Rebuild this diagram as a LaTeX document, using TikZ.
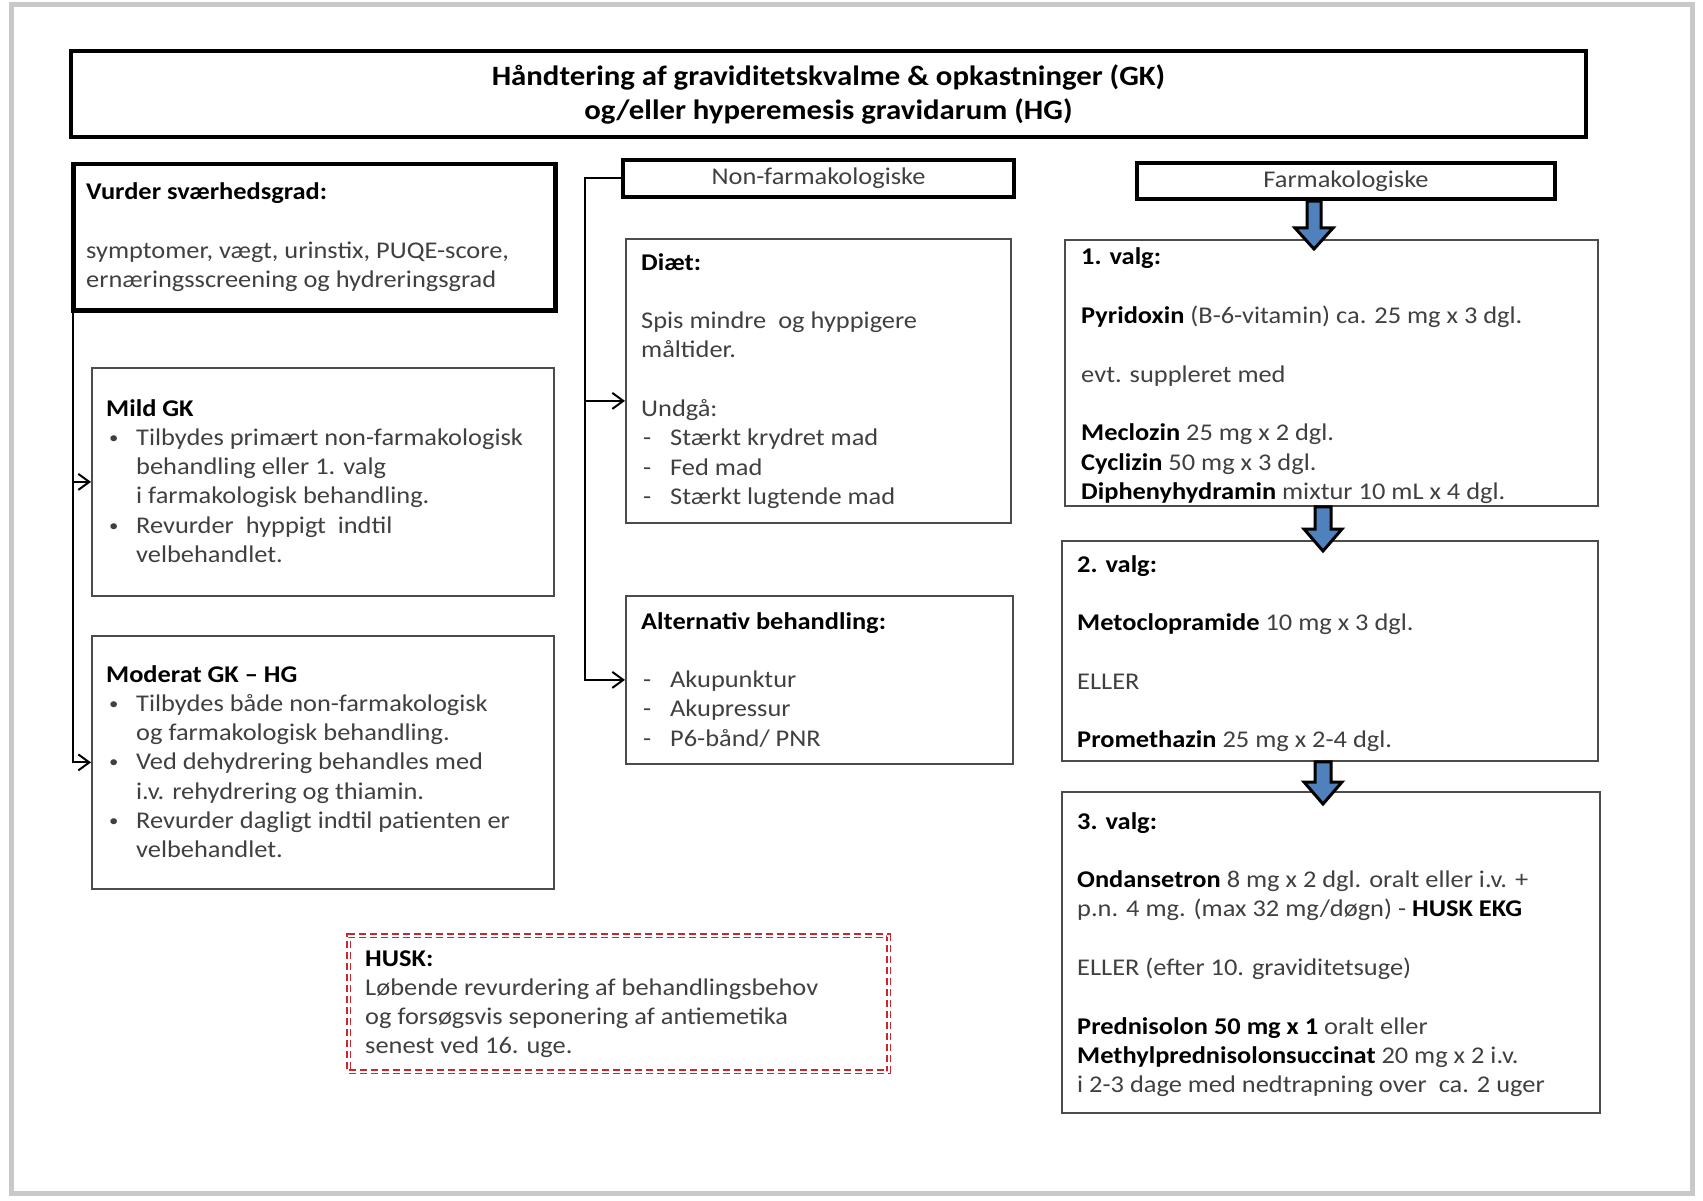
\documentclass[tikz,border=0pt]{standalone}
\usepackage{fontspec}
\setmainfont{Carlito}[FakeStretch=1.1]
\usetikzlibrary{arrows.meta,calc}
\definecolor{txtgray}{HTML}{404040}
\definecolor{blu}{HTML}{4F81BD}
\definecolor{huskred}{HTML}{C8282D}
\definecolor{framegray}{HTML}{C8C8C8}
\newcommand\mylines[1]{\begin{tabular}[t]{@{}l@{}}#1\end{tabular}}
\newcommand\mybul{\hspace*{3pt}\makebox[27pt][l]{\raisebox{2pt}{\fontsize{17}{17}\selectfont•}}}
\begin{document}
\begin{tikzpicture}[x=1pt,y=-1pt,
  thickbox/.style={draw=black, line width=4.5pt, fill=white, inner sep=0pt},
  thinbox/.style={draw=black!70, line width=1.8pt, fill=white, inner sep=0pt, anchor=north west},
  bodytext/.style={anchor=base west, inner sep=0pt, text=txtgray,
     font=\fontsize{24}{29.3}\selectfont},
  conn/.style={draw=black, line width=2pt, -{Straight Barb[length=11pt,width=16pt,line width=2pt]}},
  blockarr/.style={draw=black, line width=3pt, fill=blu, line join=miter},
]
\fill[white] (0,0) rectangle (1703,1201);
\useasboundingbox (0,0) rectangle (1703,1201);
\draw[framegray, line width=5pt] (11,5) rectangle (1692,1193);

% title
\node[thickbox, minimum width=1515pt, minimum height=86pt, align=center,
      font=\fontsize{28}{34}\selectfont\bfseries] (title) at (828.5,94)
  {Håndtering af graviditetskvalme \& opkastninger (GK)\\og/eller hyperemesis gravidarum (HG)};

% left column
\node[thickbox, anchor=north west, minimum width=482pt, minimum height=146pt] (vurder) at (71,162) {};
\node[bodytext] (vurdertxt) at (86,200)
  {\mylines{\textcolor{black}{\bfseries Vurder sværhedsgrad:}\\[29.3pt]
   symptomer, vægt, urinstix, PUQE-score,\\
   ernæringsscreening og hydreringsgrad}};

\node[thinbox, minimum width=462pt, minimum height=228pt] (mild) at (91,367) {};
\node[bodytext] (mildtxt) at (106,416)
  {\mylines{\textcolor{black}{\bfseries Mild GK}\\
   \mybul Tilbydes primært non-farmakologisk\\
   \hspace*{30pt}behandling eller 1. valg\\
   \hspace*{30pt}i farmakologisk behandling.\\
   \mybul Revurder\ \ hyppigt\ \ indtil\\
   \hspace*{30pt}velbehandlet.}};

\node[thinbox, minimum width=462pt, minimum height=253pt] (moderat) at (91,635) {};
\node[bodytext] (moderattxt) at (106,682)
  {\mylines{\textcolor{black}{\bfseries Moderat GK – HG}\\
   \mybul Tilbydes både non-farmakologisk\\
   \hspace*{30pt}og farmakologisk behandling.\\
   \mybul Ved dehydrering behandles med\\
   \hspace*{30pt}i.v. rehydrering og thiamin.\\
   \mybul Revurder dagligt indtil patienten er\\
   \hspace*{30pt}velbehandlet.}};

\draw[conn] ([xshift=1.5pt]vurder.south west) |- (mild.west);
\draw[conn] ([xshift=1.5pt]vurder.south west) |- (moderat.west);

% middle column
\node[thickbox, minimum width=391pt, minimum height=37pt, text=txtgray,
      font=\fontsize{24}{29.3}\selectfont] (nonfarma) at (818.5,178.5) {Non-farmakologiske};

\node[thinbox, minimum width=385pt, minimum height=284pt] (diaet) at (625,238) {};
\node[bodytext] (diaettxt) at (641,270)
  {\mylines{\textcolor{black}{\bfseries Diæt:}\\[29.3pt]
   Spis mindre\ \ og hyppigere\\
   måltider.\\[29.3pt]
   Undgå:\\
   \hspace*{2pt}\makebox[27pt][l]{-}Stærkt krydret mad\\
   \hspace*{2pt}\makebox[27pt][l]{-}Fed mad\\
   \hspace*{2pt}\makebox[27pt][l]{-}Stærkt lugtende mad}};

\node[thinbox, minimum width=387pt, minimum height=168pt] (altern) at (625,595) {};
\node[bodytext] (alterntxt) at (641,629)
  {\mylines{\textcolor{black}{\bfseries Alternativ behandling:}\\[29.3pt]
   \hspace*{2pt}\makebox[27pt][l]{-}Akupunktur\\
   \hspace*{2pt}\makebox[27pt][l]{-}Akupressur\\
   \hspace*{2pt}\makebox[27pt][l]{-}P6-bånd/ PNR}};

\draw[conn] (nonfarma.west) -- ++(-36,0) |- ([yshift=-20pt]diaet.west);
\draw[conn] (nonfarma.west) -- ++(-36,0) |- (altern.west);

% husk box
\node[draw=huskred, line width=1.5pt, double=white, double distance=2pt,
      dash pattern=on 7pt off 4pt, anchor=north west, inner sep=0pt,
      minimum width=540pt, minimum height=136pt] (husk) at (348,935) {};
\node[bodytext] (husktxt) at (365,966)
  {\mylines{\textcolor{black}{\bfseries HUSK:}\\
   Løbende revurdering af behandlingsbehov\\
   og forsøgsvis seponering af antiemetika\\
   senest ved 16. uge.}};

% right column
\node[thickbox, minimum width=418pt, minimum height=36pt, text=txtgray,
      font=\fontsize{24}{29.3}\selectfont] (farma) at (1346,181) {Farmakologiske};

\node[thinbox, minimum width=533pt, minimum height=266pt] (valg1) at (1064,239) {};
\node[bodytext] (valg1txt) at (1081,265)
  {\mylines{\textcolor{black}{\bfseries 1. valg:}\\[29.3pt]
   \textcolor{black}{\bfseries Pyridoxin} (B-6-vitamin) ca. 25 mg x 3 dgl.\\[29.3pt]
   evt. suppleret med\\[29.3pt]
   \textcolor{black}{\bfseries Meclozin} 25 mg x 2 dgl.\\
   \textcolor{black}{\bfseries Cyclizin} 50 mg x 3 dgl.\\
   \textcolor{black}{\bfseries Diphenyhydramin} mixtur 10 mL x 4 dgl.}};

\node[thinbox, minimum width=536pt, minimum height=220pt] (valg2) at (1061,540) {};
\node[bodytext] (valg2txt) at (1077,572)
  {\mylines{\textcolor{black}{\bfseries 2. valg:}\\[29.3pt]
   \textcolor{black}{\bfseries Metoclopramide} 10 mg x 3 dgl.\\[29.3pt]
   ELLER\\[29.3pt]
   \textcolor{black}{\bfseries Promethazin} 25 mg x 2-4 dgl.}};

\node[thinbox, minimum width=538pt, minimum height=321pt] (valg3) at (1061,791) {};
\node[bodytext] (valg3txt) at (1077,829)
  {\mylines{\textcolor{black}{\bfseries 3. valg:}\\[29.3pt]
   \textcolor{black}{\bfseries Ondansetron} 8 mg x 2 dgl. oralt eller i.v. +\\
   p.n. 4 mg. (max 32 mg/døgn) - \textcolor{black}{\bfseries HUSK EKG}\\[29.3pt]
   ELLER (efter 10. graviditetsuge)\\[29.3pt]
   \textcolor{black}{\bfseries Prednisolon 50 mg x 1} oralt eller\\
   \textcolor{black}{\bfseries Methylprednisolonsuccinat} 20 mg x 2 i.v.\\
   i 2-3 dage med nedtrapning over\ \ ca. 2 uger}};

% block arrows
\coordinate (ax1) at (1314,0);
\coordinate (ax2) at (1323,0);
\draw[blockarr] let \p1=(ax1 |- farma.south), \p2=(ax1 |- valg1.north) in
  (\x1-7pt,\y1) -- (\x1+7pt,\y1) -- (\x1+7pt,\y2+11pt) -- (\x1+19pt,\y2+11pt)
  -- (\x1,\y2-10pt) -- (\x1-19pt,\y2+11pt) -- (\x1-7pt,\y2+11pt) -- cycle;
\draw[blockarr] let \p1=(ax2 |- valg1.south), \p2=(ax2 |- valg2.north) in
  (\x1-8pt,\y1) -- (\x1+8pt,\y1) -- (\x1+8pt,\y2+11pt) -- (\x1+19pt,\y2+11pt)
  -- (\x1,\y2-11pt) -- (\x1-19pt,\y2+11pt) -- (\x1-8pt,\y2+11pt) -- cycle;
\draw[blockarr] let \p1=(ax2 |- valg2.south), \p2=(ax2 |- valg3.north) in
  (\x1-8pt,\y1) -- (\x1+8pt,\y1) -- (\x1+8pt,\y2+9pt) -- (\x1+19pt,\y2+9pt)
  -- (\x1,\y2-13pt) -- (\x1-19pt,\y2+9pt) -- (\x1-8pt,\y2+9pt) -- cycle;
\end{tikzpicture}
\end{document}
